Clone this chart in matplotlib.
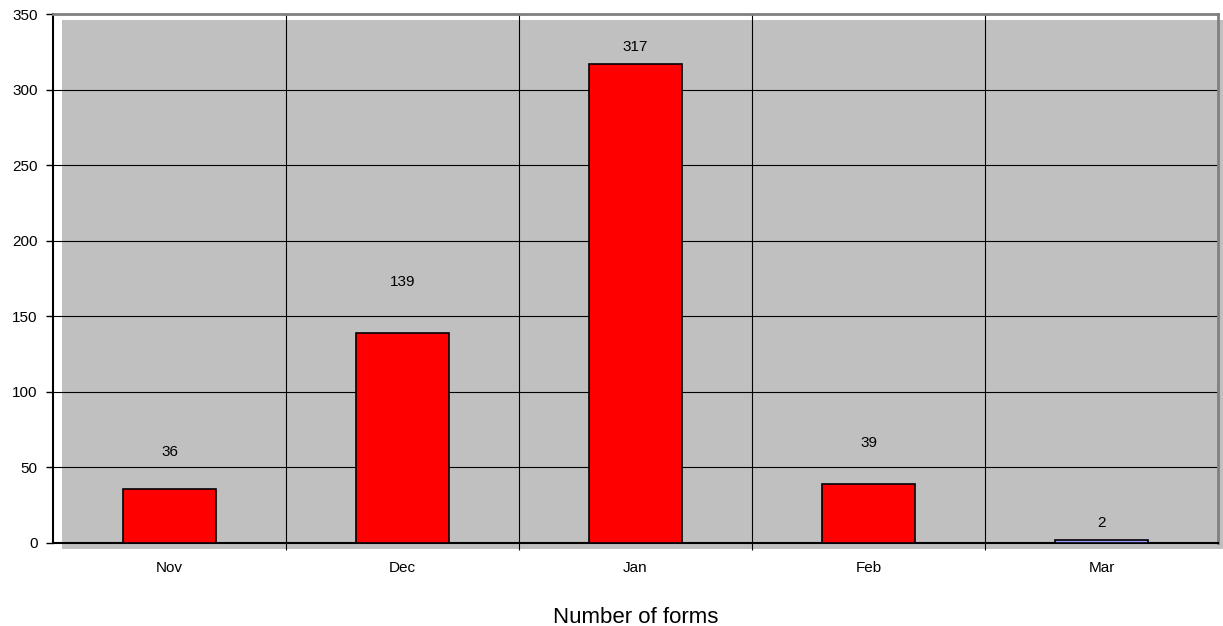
import matplotlib.pyplot as plt
import matplotlib.transforms as mtransforms
from matplotlib.patches import Rectangle

months = ["Nov", "Dec", "Jan", "Feb", "Mar"]
forms = [36, 139, 317, 39, 2]
bar_colors = ["#FF0000", "#FF0000", "#FF0000", "#FF0000", "#9999FF"]
label_pad = [24, 34, 11, 27, 11]

plt.rcParams['font.family'] = ['Liberation Sans', 'DejaVu Sans']

fig = plt.figure(figsize=(12.23, 6.26), dpi=100)
ax = fig.add_axes([53 / 1223, 1 - 543 / 626, 1165 / 1223, 529 / 626])
ax.set_facecolor('none')

# shadowed grey plot area, shifted right/down from the axes frame
shift = mtransforms.ScaledTranslation(9 / 100, -6 / 100, fig.dpi_scale_trans)
shadow = Rectangle((0, 0), 1, 1, transform=ax.transAxes + shift,
                   facecolor="#C0C0C0", edgecolor='none', zorder=-1)
fig.add_artist(shadow)

x = list(range(len(months)))
ax.bar(x, forms, width=0.4, color=bar_colors, edgecolor='black', linewidth=1.2, zorder=3)
for i, v in enumerate(forms):
    ax.text(i, v + label_pad[i], str(v), ha='center', va='center', fontsize=11, zorder=4)

ax.set_xlim(-0.5, 4.5)
ax.set_ylim(0, 350)
ax.set_yticks(range(0, 351, 50))
ax.set_xticks(x)
ax.set_xticklabels(months, fontsize=11)
ax.tick_params(axis='x', length=0, pad=13)
ax.tick_params(axis='y', labelsize=11, length=5, width=1, direction='out', pad=6)
ax.set_xticks([0.5, 1.5, 2.5, 3.5], minor=True)
ax.tick_params(axis='x', which='minor', length=5, width=0.8, direction='out')

ax.grid(True, axis='y', which='major', color='black', linewidth=0.8, zorder=1)
ax.grid(True, axis='x', which='minor', color='black', linewidth=0.8, zorder=1)
ax.set_axisbelow(True)

ax.spines['left'].set_color('black')
ax.spines['left'].set_linewidth(1.5)
ax.spines['bottom'].set_color('black')
ax.spines['bottom'].set_linewidth(1.5)
ax.spines['top'].set_color('#808080')
ax.spines['top'].set_linewidth(2)
ax.spines['right'].set_color('#808080')
ax.spines['right'].set_linewidth(2)

ax.set_xlabel("Number of forms", fontsize=16, labelpad=23)

fig.savefig("out.png", dpi=100)
